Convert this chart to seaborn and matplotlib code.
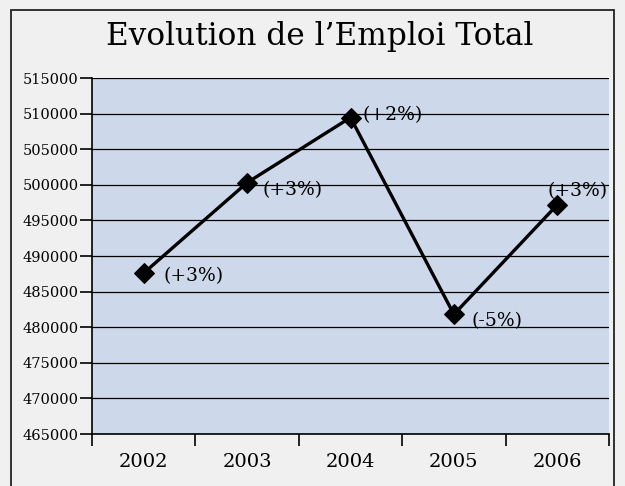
import matplotlib
matplotlib.use("Agg")
import matplotlib.pyplot as plt
from matplotlib.patches import Rectangle
import seaborn as sns
import pandas as pd

years = ["2002", "2003", "2004", "2005", "2006"]
emploi = [487600, 500300, 509450, 481800, 497200]
variations = ["(+3%)", "(+3%)", "(+2%)", "(-5%)", "(+3%)"]
y_ticks = list(range(465000, 515001, 5000))

df = pd.DataFrame({"pos": range(len(years)), "emploi": emploi})

sns.set_style("white")
plt.rcParams["font.family"] = ["DejaVu Serif"]
plt.rcParams["text.color"] = "black"
plt.rcParams["xtick.color"] = "black"
plt.rcParams["ytick.color"] = "black"

fig = plt.figure(figsize=(6.25, 4.86), dpi=100)
fig.patch.set_facecolor("#f0f0f0")
fig.patches.append(Rectangle((11 / 625, -0.05), 603 / 625, 1.05 - 10 / 486,
                             transform=fig.transFigure, fill=False,
                             edgecolor="#222222", linewidth=1.3))

ax = fig.add_axes([92 / 625, 52 / 486, 517 / 625, 356 / 486])
ax.set_facecolor("#cdd9ea")

sns.lineplot(data=df, x="pos", y="emploi", ax=ax, color="black", linewidth=2.4,
             marker="D", markersize=10.5, markeredgecolor="black", markerfacecolor="black")

# label offsets in points (dx, dy)
offsets = [(14, -2), (11, -5), (9, 2), (13, -5), (-7, 10)]
for i, (v, lab) in enumerate(zip(emploi, variations)):
    ax.annotate(lab, (i, v), xytext=offsets[i], textcoords="offset points",
                fontsize=13.5, ha="left", va="center", annotation_clip=False)

ax.set_xlim(-0.5, len(years) - 0.5)
ax.set_ylim(465000, 515000)
ax.set_yticks(y_ticks)
ax.set_yticklabels([str(t) for t in y_ticks], fontsize=10.5)
ax.yaxis.grid(True, color="black", linewidth=0.9)
ax.set_axisbelow(True)

ax.set_xticks([i - 0.5 for i in range(len(years) + 1)])
ax.set_xticklabels([""] * (len(years) + 1))
ax.set_xticks(range(len(years)), minor=True)
ax.set_xticklabels(years, minor=True, fontsize=14)
ax.tick_params(axis="x", which="major", bottom=True, direction="out", length=8.5, width=1.2)
ax.tick_params(axis="x", which="minor", bottom=True, length=0, pad=14)
ax.tick_params(axis="y", left=True, direction="out", length=8.6, width=1.2, pad=1)

ax.set_xlabel("")
ax.set_ylabel("")
for s in ["top", "right"]:
    ax.spines[s].set_visible(False)
for s in ["left", "bottom"]:
    ax.spines[s].set_color("black")
    ax.spines[s].set_linewidth(1.2)

fig.text(320 / 625, 1 - 37 / 486, "Evolution de l\u2019Emploi Total", ha="center", va="center",
         fontsize=22.5)

fig.savefig("out.png", dpi=100, facecolor=fig.get_facecolor())
